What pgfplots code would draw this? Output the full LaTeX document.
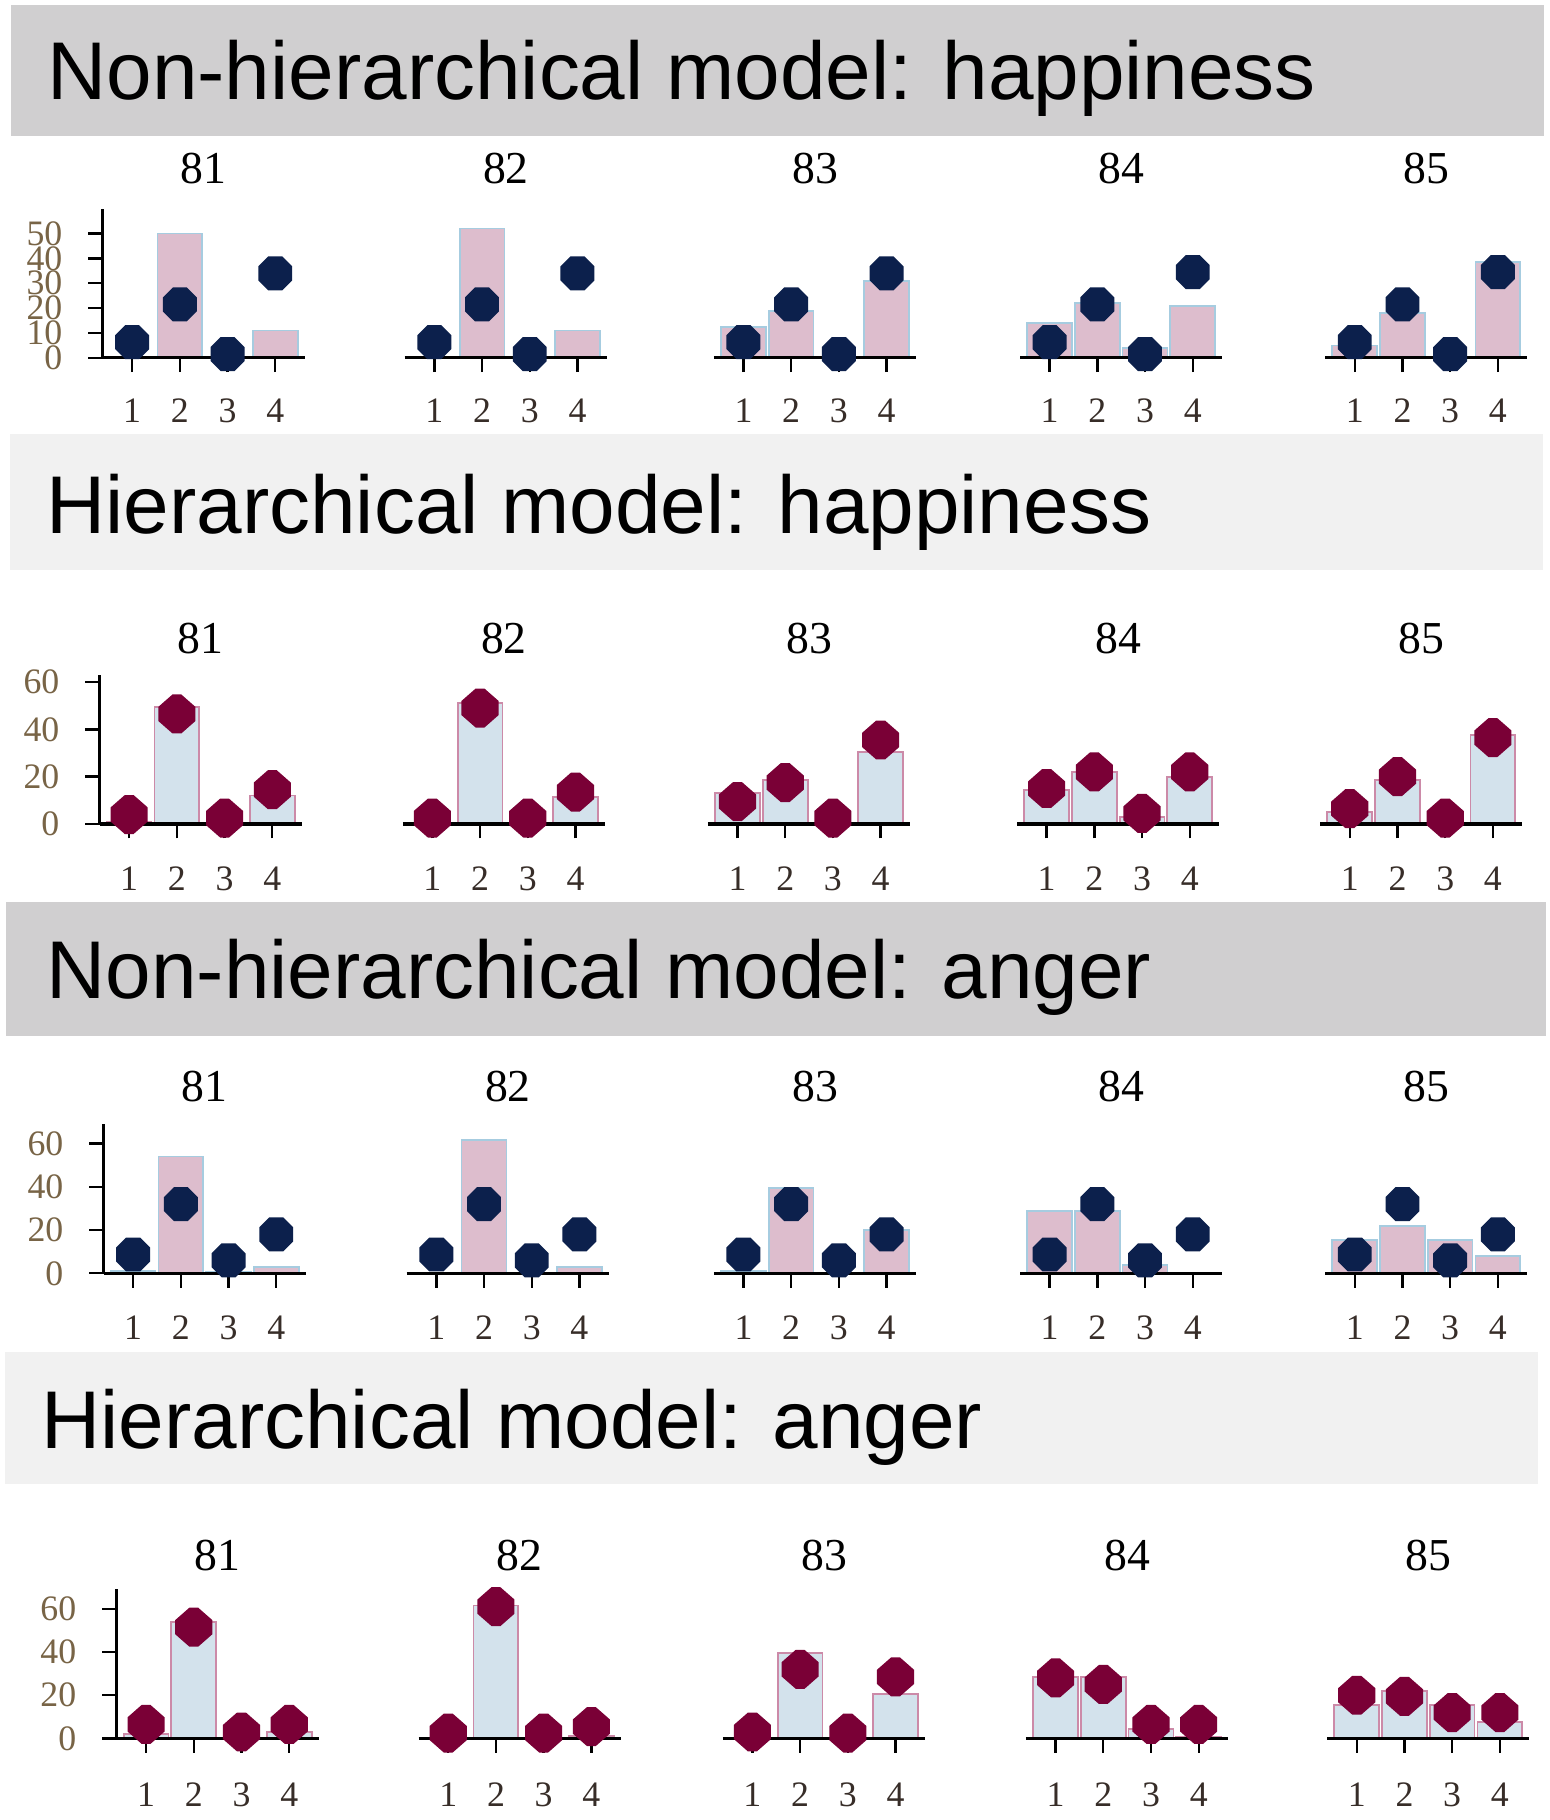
\documentclass[border=0pt]{standalone}
\usepackage{fontspec}
\setmainfont{Liberation Serif}
\newfontfamily\sansf{Liberation Sans}
\usepackage{pgfplots}
\pgfplotsset{compat=1.18}

\definecolor{pinkfill}{RGB}{221,189,205}
\definecolor{blueedge}{RGB}{166,204,224}
\definecolor{bluefill}{RGB}{211,226,236}
\definecolor{pinkedge}{RGB}{204,138,168}
\definecolor{navy}{RGB}{12,32,76}
\definecolor{maroonc}{RGB}{122,0,54}
\definecolor{bandA}{RGB}{208,207,208}
\definecolor{bandB}{RGB}{241,241,241}
\definecolor{ylab}{RGB}{120,100,70}
\definecolor{xlab}{RGB}{55,45,40}

\pgfdeclareplotmark{oct}{%
 \pgfpathmoveto{\pgfpointpolar{22.5}{\pgfplotmarksize}}%
 \pgfpathlineto{\pgfpointpolar{67.5}{\pgfplotmarksize}}%
 \pgfpathlineto{\pgfpointpolar{112.5}{\pgfplotmarksize}}%
 \pgfpathlineto{\pgfpointpolar{157.5}{\pgfplotmarksize}}%
 \pgfpathlineto{\pgfpointpolar{202.5}{\pgfplotmarksize}}%
 \pgfpathlineto{\pgfpointpolar{247.5}{\pgfplotmarksize}}%
 \pgfpathlineto{\pgfpointpolar{292.5}{\pgfplotmarksize}}%
 \pgfpathlineto{\pgfpointpolar{337.5}{\pgfplotmarksize}}%
 \pgfpathclose\pgfusepathqfillstroke}
\pgfdeclareplotmark{hexv}{%
 \pgfpathmoveto{\pgfqpoint{0.22\pgfplotmarksize}{\pgfplotmarksize}}%
 \pgfpathlineto{\pgfqpoint{0.95\pgfplotmarksize}{0.36\pgfplotmarksize}}%
 \pgfpathlineto{\pgfqpoint{0.95\pgfplotmarksize}{-0.36\pgfplotmarksize}}%
 \pgfpathlineto{\pgfqpoint{0.22\pgfplotmarksize}{-\pgfplotmarksize}}%
 \pgfpathlineto{\pgfqpoint{-0.22\pgfplotmarksize}{-\pgfplotmarksize}}%
 \pgfpathlineto{\pgfqpoint{-0.95\pgfplotmarksize}{-0.36\pgfplotmarksize}}%
 \pgfpathlineto{\pgfqpoint{-0.95\pgfplotmarksize}{0.36\pgfplotmarksize}}%
 \pgfpathlineto{\pgfqpoint{-0.22\pgfplotmarksize}{\pgfplotmarksize}}%
 \pgfpathclose\pgfusepathqfillstroke}

\newcommand\tickfont{\fontsize{9}{11}\selectfont}
\newcommand\titlefont{\fontsize{11.5}{14}\selectfont}
\newcommand\bandfont{\sansf\fontsize{20.6}{25}\selectfont}

\pgfplotsset{
 base/.style={scale only axis, width=50.88pt, height=37.5pt,
   xmin=0.38, xmax=4.62, ymin=0, clip=false, axis on top,
   axis x line*=bottom,
   xtick={1,2,3,4},
   tick align=outside, major tick length=3.6pt,
   axis line style={line width=0.8pt, black},
   every tick/.style={line width=0.6pt, black},
   /pgf/number format/assume math mode=true,
   xticklabel style={font=\tickfont, text=xlab},
   yticklabel style={font=\tickfont, text=ylab},
   xticklabel shift=3.1pt, yticklabel shift=3pt},
 A/.style={ymax=60},
 B/.style={ymax=63, xticklabel shift=3.6pt},
 C/.style={ymax=69, xticklabel shift=3.6pt},
 D/.style={ymax=69, xticklabel shift=4pt},
 noy/.style={axis y line=none, ytick=\empty},
 yA/.style={axis y line*=left, ytick={0,10,20,30,40,50}},
 ySix/.style={axis y line*=left, ytick={0,20,40,60}},
 nbar/.style={ybar, bar width=0.94, fill=pinkfill, draw=blueedge, line width=0.45pt},
 hbar/.style={ybar, bar width=0.94, fill=bluefill, draw=pinkedge, line width=0.45pt},
 npt/.style={only marks, mark=oct, mark size=4.4pt, draw=navy, fill=navy},
 hpt/.style={only marks, mark=hexv, mark size=4.7pt, draw=maroonc, fill=maroonc},
}

% #1 tick-1 x (px), #2 baseline y (px), #3 extra style, #4 bar style, #5 bars, #6 mark style, #7 points
\newcommand\panel[7]{%
\begin{axis}[base,#3,at={({(#1-29.8)*0.25pt},{-(#2)*0.25pt})},anchor=south west]
\addplot[#4] coordinates {#5};
\addplot[#6] coordinates {#7};
\end{axis}}

\begin{document}
\begin{tikzpicture}
\begin{scope}[x=0.25pt,y=-0.25pt]
\fill[white] (0,0) rectangle (1559,1820);
\path[use as bounding box] (0,0) rectangle (1559,1820);
\fill[bandA] (11,5) rectangle (1553,137);
\node[anchor=base west, inner sep=0pt, font=\bandfont] at (47,100) {Non-hierarchical model: happiness};
\fill[bandB] (10,437) rectangle (1552,573);
\node[anchor=base west, inner sep=0pt, font=\bandfont] at (46,537) {Hierarchical model: happiness};
\fill[bandA] (6,907) rectangle (1555,1042);
\node[anchor=base west, inner sep=0pt, font=\bandfont] at (46,1005) {Non-hierarchical model: anger};
\fill[bandB] (5,1360) rectangle (1547,1493);
\node[anchor=base west, inner sep=0pt, font=\bandfont] at (41,1457) {Hierarchical model: anger};
\foreach \t/\x in {81/133,82/437,83/748,84/1056,85/1363}{\node[font=\titlefont] at ({\x+72},170) {\t};}
\foreach \t/\x in {81/130,82/435,83/742,84/1053,85/1358}{\node[font=\titlefont] at ({\x+72},642) {\t};}
\foreach \t/\x in {81/134,82/439,83/748,84/1056,85/1363}{\node[font=\titlefont] at ({\x+72},1093) {\t};}
\foreach \t/\x in {81/147,82/451,83/757,84/1062,85/1365}{\node[font=\titlefont] at ({\x+72},1565) {\t};}
\end{scope}

% ---------- Non-hierarchical: happiness ----------
\panel{133}{360}{A,yA}{nbar}{(1,0) (2,50) (3,0) (4,11)}{npt}{(1,6.3) (2,21.5) (3,1.5) (4,34)}
\panel{437}{360}{A,noy}{nbar}{(1,0) (2,52) (3,0) (4,11)}{npt}{(1,6.3) (2,21.5) (3,1.5) (4,34)}
\panel{748}{360}{A,noy}{nbar}{(1,12.5) (2,19) (3,0) (4,31)}{npt}{(1,6.3) (2,21.5) (3,1.5) (4,34)}
\panel{1056}{360}{A,noy}{nbar}{(1,14) (2,22) (3,4) (4,21)}{npt}{(1,6.3) (2,21.5) (3,1.5) (4,34.5)}
\panel{1363}{360}{A,noy}{nbar}{(1,5) (2,18) (3,0) (4,38.5)}{npt}{(1,6.3) (2,21.5) (3,1.5) (4,34.5)}

% ---------- Hierarchical: happiness ----------
\panel{130}{829}{B,ySix}{hbar}{(1,1) (2,49.5) (3,0.5) (4,12)}{hpt}{(1,4) (2,46.5) (3,2.5) (4,14.5)}
\panel{435}{829}{B,noy}{hbar}{(1,0) (2,51) (3,0) (4,11.5)}{hpt}{(1,2.5) (2,49) (3,2.5) (4,13.5)}
\panel{742}{829}{B,noy}{hbar}{(1,13) (2,18.5) (3,0) (4,30.5)}{hpt}{(1,9.5) (2,17.5) (3,2.5) (4,35.5)}
\panel{1053}{829}{B,noy}{hbar}{(1,14.5) (2,22) (3,3) (4,20)}{hpt}{(1,15) (2,22) (3,4.5) (4,22)}
\panel{1358}{829}{B,noy}{hbar}{(1,5) (2,18.5) (3,0) (4,37.5)}{hpt}{(1,6.5) (2,20) (3,2.5) (4,36.5)}

% ---------- Non-hierarchical: anger ----------
\panel{134}{1281}{C,ySix}{nbar}{(1,1) (2,54) (3,0.5) (4,3)}{npt}{(1,8.7) (2,32) (3,6) (4,18)}
\panel{439}{1281}{C,noy}{nbar}{(1,0) (2,61.5) (3,0) (4,3)}{npt}{(1,8.7) (2,32) (3,6) (4,18)}
\panel{748}{1281}{C,noy}{nbar}{(1,1) (2,39.5) (3,0) (4,20)}{npt}{(1,8.7) (2,32) (3,6) (4,18)}
\panel{1056}{1281}{C,noy}{nbar}{(1,29) (2,29) (3,4) (4,0)}{npt}{(1,8.7) (2,32) (3,6) (4,18)}
\panel{1363}{1281}{C,noy}{nbar}{(1,15.5) (2,22) (3,15.5) (4,8)}{npt}{(1,8.7) (2,32) (3,6) (4,18)}

% ---------- Hierarchical: anger ----------
\panel{147}{1749}{D,ySix}{hbar}{(1,2) (2,54) (3,0) (4,3)}{hpt}{(1,6.5) (2,51.5) (3,3) (4,6.5)}
\panel{451}{1749}{D,noy}{hbar}{(1,0) (2,61.5) (3,0) (4,1)}{hpt}{(1,2.5) (2,61) (3,2.5) (4,5.5)}
\panel{757}{1749}{D,noy}{hbar}{(1,0) (2,39.5) (3,0) (4,20.5)}{hpt}{(1,3) (2,32) (3,2.5) (4,28.5)}
\panel{1062}{1749}{D,noy}{hbar}{(1,28.5) (2,28.5) (3,4.5) (4,0.5)}{hpt}{(1,28) (2,25) (3,6.5) (4,6.5)}
\panel{1365}{1749}{D,noy}{hbar}{(1,15.5) (2,22) (3,15.5) (4,7.5)}{hpt}{(1,20) (2,19.5) (3,12) (4,12)}
\end{tikzpicture}
\end{document}
